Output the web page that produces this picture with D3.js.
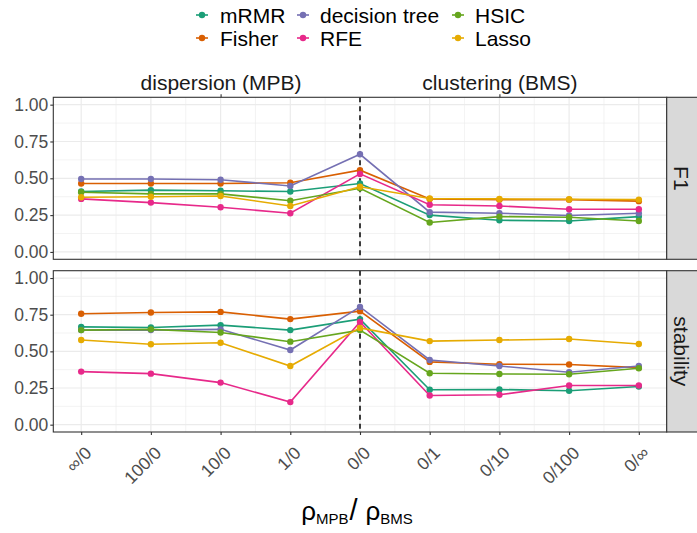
<!DOCTYPE html>
<html>
<head>
<meta charset="utf-8">
<script src="https://cdn.jsdelivr.net/npm/d3@7"></script>
<style>
  body { margin: 0; background: #fff; }
  text { font-family: "Liberation Sans", Arial, sans-serif; }
</style>
</head>
<body>
<div id="chart"></div>
<script>
const categories = ["∞/0", "100/0", "10/0", "1/0", "0/0", "0/1", "0/10", "0/100", "0/∞"];
const methods = ["mRMR", "Fisher", "decision tree", "RFE", "HSIC", "Lasso"];
const colors = ["#1B9E77", "#D95F02", "#7570B3", "#E7298A", "#66A61E", "#E6AB02"];
const panels = ["F1", "stability"];
const yTicks = [0, 0.25, 0.5, 0.75, 1];
const topLabels = [[2, "dispersion (MPB)"], [6, "clustering (BMS)"]];

// F1 per method
const f1_mRMR = [0.41, 0.42, 0.415, 0.41, 0.465, 0.25, 0.215, 0.21, 0.24];
const f1_Fisher = [0.465, 0.465, 0.465, 0.47, 0.555, 0.36, 0.355, 0.355, 0.345];
const f1_tree = [0.495, 0.495, 0.49, 0.448, 0.663, 0.27, 0.263, 0.247, 0.263];
const f1_RFE = [0.36, 0.335, 0.303, 0.263, 0.53, 0.32, 0.312, 0.29, 0.29];
const f1_HSIC = [0.405, 0.394, 0.394, 0.348, 0.432, 0.2, 0.24, 0.236, 0.21];
const f1_Lasso = [0.371, 0.375, 0.38, 0.312, 0.443, 0.363, 0.36, 0.358, 0.355];

// stability per method
const st_mRMR = [0.667, 0.663, 0.679, 0.645, 0.72, 0.238, 0.24, 0.231, 0.26];
const st_Fisher = [0.756, 0.765, 0.769, 0.72, 0.774, 0.428, 0.412, 0.41, 0.389];
const st_tree = [0.645, 0.645, 0.65, 0.509, 0.803, 0.441, 0.4, 0.358, 0.4];
const st_RFE = [0.362, 0.348, 0.287, 0.154, 0.7, 0.199, 0.204, 0.267, 0.267];
const st_HSIC = [0.645, 0.65, 0.629, 0.566, 0.645, 0.351, 0.346, 0.344, 0.385];
const st_Lasso = [0.577, 0.548, 0.559, 0.4, 0.66, 0.57, 0.577, 0.584, 0.55];

const f1Series = [f1_mRMR, f1_Fisher, f1_tree, f1_RFE, f1_HSIC, f1_Lasso];
const stSeries = [st_mRMR, st_Fisher, st_tree, st_RFE, st_HSIC, st_Lasso];
const panelSeries = [f1Series, stSeries];

const width = 697, height = 533;
const left = 53.3, right = 666.7;
const panelBox = [[97.3, 259.3], [270.7, 432]];
const stripW = 34;
const axisColor = "#333333", textGray = "#4D4D4D", gridColor = "#EBEBEB";

const svg = d3.select("#chart").append("svg")
  .attr("width", width).attr("height", height);

const x = d3.scaleLinear().domain([-0.4, 8.4]).range([left, right]);

panelBox.forEach(([top, bottom], p) => {
  const y = d3.scaleLinear().domain([-0.05, 1.05]).range([bottom, top]);
  const g = svg.append("g");

  // minor grid
  const minorX = d3.range(0, 8).map((i) => i + 0.5);
  const minorY = [0.125, 0.375, 0.625, 0.875];
  g.selectAll(".mx").data(minorX).join("line")
    .attr("x1", (d) => x(d)).attr("x2", (d) => x(d))
    .attr("y1", top).attr("y2", bottom)
    .attr("stroke", gridColor).attr("stroke-width", 0.6);
  g.selectAll(".my").data(minorY).join("line")
    .attr("x1", left).attr("x2", right)
    .attr("y1", (d) => y(d)).attr("y2", (d) => y(d))
    .attr("stroke", gridColor).attr("stroke-width", 0.6);

  // major grid
  g.selectAll(".gx").data(d3.range(9)).join("line")
    .attr("x1", (d) => x(d)).attr("x2", (d) => x(d))
    .attr("y1", top).attr("y2", bottom)
    .attr("stroke", gridColor).attr("stroke-width", 1.2);
  g.selectAll(".gy").data(yTicks).join("line")
    .attr("x1", left).attr("x2", right)
    .attr("y1", (d) => y(d)).attr("y2", (d) => y(d))
    .attr("stroke", gridColor).attr("stroke-width", 1.2);

  // dashed separator at 0/0
  g.append("line")
    .attr("x1", x(4)).attr("x2", x(4))
    .attr("y1", top).attr("y2", bottom)
    .attr("stroke", "#000").attr("stroke-width", 1.5)
    .attr("stroke-dasharray", "5,4");

  // series
  const line = d3.line().x((d, i) => x(i)).y((d) => y(d));
  panelSeries[p].forEach((vals, m) => {
    g.append("path")
      .attr("d", line(vals))
      .attr("fill", "none")
      .attr("stroke", colors[m])
      .attr("stroke-width", 1.6);
    g.selectAll(null).data(vals).join("circle")
      .attr("cx", (d, i) => x(i)).attr("cy", (d) => y(d))
      .attr("r", 3.2).attr("fill", colors[m]);
  });

  // panel border
  g.append("rect")
    .attr("x", left).attr("y", top)
    .attr("width", right - left).attr("height", bottom - top)
    .attr("fill", "none").attr("stroke", axisColor).attr("stroke-width", 1.1);

  // y axis
  const yAxis = g.append("g")
    .attr("transform", `translate(${left},0)`)
    .call(d3.axisLeft(y).tickValues(yTicks).tickFormat(d3.format(".2f")).tickSize(3).tickPadding(2));
  yAxis.select(".domain").remove();
  yAxis.selectAll(".tick line").attr("stroke", axisColor).attr("stroke-width", 1.1);
  yAxis.selectAll(".tick text")
    .attr("fill", textGray).style("font-size", "17.5px")
    .style("font-family", "Liberation Sans, Arial, sans-serif");

  // strip
  g.append("rect")
    .attr("x", right).attr("y", top)
    .attr("width", stripW).attr("height", bottom - top)
    .attr("fill", "#D9D9D9").attr("stroke", axisColor).attr("stroke-width", 1.1);
  g.append("text")
    .attr("transform", `translate(${right + 15},${(top + bottom) / 2}) rotate(90)`)
    .attr("text-anchor", "middle").attr("dy", "0.35em")
    .attr("fill", "#1A1A1A").style("font-size", "21px")
    .text(panels[p]);
});

// bottom x axis
const [, bottomEdge] = panelBox[1];
const xAxis = svg.append("g")
  .attr("transform", `translate(0,${bottomEdge})`)
  .call(d3.axisBottom(x).tickValues(d3.range(9)).tickFormat((d) => categories[d]).tickSize(3));
xAxis.select(".domain").remove();
xAxis.selectAll(".tick line").attr("stroke", axisColor).attr("stroke-width", 1.1);
xAxis.selectAll(".tick text")
  .attr("fill", textGray).style("font-size", "17.5px")
  .style("font-family", "Liberation Sans, Arial, sans-serif")
  .attr("text-anchor", "end")
  .attr("y", null).attr("dy", null)
  .attr("transform", "translate(11,22) rotate(-45)");

// top secondary axis
const topEdge = panelBox[0][0];
const topAxis = svg.append("g")
  .attr("transform", `translate(0,${topEdge})`)
  .call(d3.axisTop(x).tickValues(topLabels.map((d) => d[0]))
    .tickFormat((d) => topLabels.find((t) => t[0] === d)[1]).tickSize(3).tickPadding(4));
topAxis.select(".domain").remove();
topAxis.selectAll(".tick line").attr("stroke", axisColor).attr("stroke-width", 1.1);
topAxis.selectAll(".tick text")
  .attr("fill", "#1A1A1A").style("font-size", "21px")
  .style("font-family", "Liberation Sans, Arial, sans-serif");

// x axis title: rho_MPB / rho_BMS
const title = svg.append("text")
  .attr("x", 357).attr("y", 520)
  .attr("text-anchor", "middle").attr("fill", "#000");
title.append("tspan").style("font-size", "26px").text("ρ");
title.append("tspan").style("font-size", "15px").attr("dy", 4).text("MPB");
title.append("tspan").style("font-size", "29px").attr("dy", -4).attr("dx", 1).text("/");
title.append("tspan").style("font-size", "26px").attr("dx", 8).text("ρ");
title.append("tspan").style("font-size", "15px").attr("dy", 4).text("BMS");

// legend (column-major, 2 rows)
const legendCols = [[202, 220], [303, 320], [458, 475]];
const legendRows = [15, 38];
methods.forEach((m, i) => {
  const col = Math.floor(i / 2), row = i % 2;
  const [kx, tx] = legendCols[col];
  const ly = legendRows[row];
  const lg = svg.append("g");
  lg.append("line")
    .attr("x1", kx - 6).attr("x2", kx + 6)
    .attr("y1", ly).attr("y2", ly)
    .attr("stroke", colors[i]).attr("stroke-width", 1.6);
  lg.append("circle").attr("cx", kx).attr("cy", ly).attr("r", 3.2).attr("fill", colors[i]);
  lg.append("text")
    .attr("x", tx).attr("y", ly).attr("dy", "0.36em")
    .style("font-size", "21px").attr("fill", "#000")
    .text(m);
});
</script>
</body>
</html>
